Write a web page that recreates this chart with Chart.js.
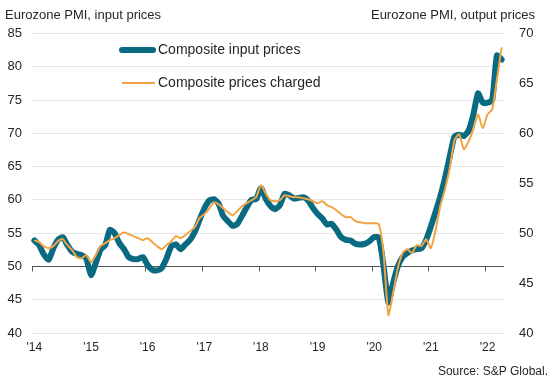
<!DOCTYPE html>
<html>
<head>
<meta charset="utf-8">
<script src="https://cdn.jsdelivr.net/npm/chart.js@4/dist/chart.umd.min.js"></script>
<style>
  html, body { margin: 0; padding: 0; background: #fff; }
  #wrap { width: 556px; height: 389px; position: relative; }
</style>
</head>
<body>
<div id="wrap"><canvas id="pmiChart"></canvas></div>
<script>
const years = [2014, 2015, 2016, 2017, 2018, 2019, 2020, 2021, 2022];
const yearTicks = ["'14", "'15", "'16", "'17", "'18", "'19", "'20", "'21", "'22"];

// Composite input prices (left axis), Jan 2014 - Apr 2022
const inputPrices = [
    53.9, 53.2, 51.8, 51.0, 52.7, 54.0, 54.4, 53.2, 52.2, 51.9, 51.7, 51.2,
    48.7, 50.5, 52.5, 53.2, 55.5, 55.0, 53.5, 52.6, 51.4, 51.1, 51.1, 51.4,
    50.2, 49.5, 49.4, 49.8, 51.2, 53.0, 53.3, 52.6, 53.3, 54.0, 55.2, 57.0,
    58.7, 59.9, 60.1, 59.5, 57.6, 56.8, 56.1, 56.4, 57.6, 58.9, 60.0, 60.1,
    61.8, 60.2, 59.1, 58.6, 59.2, 60.9, 60.7, 60.2, 60.3, 60.4, 59.9, 58.8,
    57.9, 57.2, 56.3, 56.4, 55.5, 54.4, 54.0, 53.9, 53.4, 53.3, 53.4, 53.8,
    54.4, 54.3, 50.0, 44.6, 47.5, 50.0, 51.4, 52.0, 52.4, 52.6, 52.7, 54.0,
    56.0, 58.2, 60.5, 63.3, 66.5, 69.5, 69.8, 69.6, 70.4, 72.8, 76.0, 74.6,
    74.6, 75.0, 81.7, 81.1
];

// Composite prices charged (right axis)
const pricesCharged = [
    49.3, 49.1, 48.7, 48.5, 48.7, 49.2, 49.4, 48.8, 48.3, 47.6, 47.5, 47.8,
    47.1, 47.8, 48.7, 49.0, 49.3, 49.5, 49.8, 50.1, 49.9, 49.7, 49.5, 49.3,
    49.5, 49.1, 48.7, 48.4, 48.8, 49.2, 49.7, 49.5, 49.8, 50.2, 50.6, 51.5,
    51.9, 52.4, 53.1, 52.9, 52.5, 52.1, 51.8, 52.2, 52.7, 53.0, 53.3, 53.6,
    54.8, 54.0, 53.3, 53.2, 53.3, 53.8, 53.7, 53.6, 53.6, 53.5, 53.4, 53.2,
    53.0, 53.2, 52.8, 52.6, 52.3, 51.9, 51.6, 51.6, 51.2, 51.1, 51.0, 51.0,
    51.0, 50.9, 47.9, 41.8, 44.0, 46.5, 48.0, 48.4, 48.0, 48.8, 48.7, 49.4,
    48.5, 50.3, 52.7, 54.4, 56.5, 59.3, 59.9, 58.4, 59.2, 60.4, 61.9, 60.5,
    61.9, 62.4, 65.4, 68.6
];

const leftTicks = { min: 40, max: 85, step: 5 };
const rightTicks = { min: 40, max: 70, step: 5 };

const labels = [];
years.forEach(y => {
    for (let m = 1; m <= 12; m++) labels.push(y + "-" + m);
});
labels.length = inputPrices.length;

const TEAL = "#0a6a82";
const ORANGE = "#f2a444";
const TEXT = "#262626";
const FONT = "'Liberation Sans', Arial, sans-serif";

const decor = {
    id: "decor",
    beforeDatasetsDraw(chart) {
        const ctx = chart.ctx;
        const x = chart.scales.x;
        const yL = chart.scales.yL;
        const area = chart.chartArea;
        const y50 = Math.round(yL.getPixelForValue(50)) + 0.5;
        const half = (x.getPixelForValue(1) - x.getPixelForValue(0)) / 2;
        ctx.save();
        ctx.strokeStyle = "#555555";
        ctx.lineWidth = 1;
        ctx.beginPath();
        ctx.moveTo(area.left, y50);
        ctx.lineTo(area.right, y50);
        yearTicks.forEach((t, k) => {
            const tx = Math.round(x.getPixelForValue(k * 12) - half) + 0.5;
            ctx.moveTo(tx, y50);
            ctx.lineTo(tx, y50 + 5);
        });
        ctx.stroke();
        ctx.restore();
    },
    afterDraw(chart) {
        const ctx = chart.ctx;
        ctx.save();
        ctx.fillStyle = TEXT;
        ctx.textBaseline = "middle";
        ctx.font = "13px " + FONT;
        ctx.textAlign = "left";
        ctx.fillText("Eurozone PMI, input prices", 5, 15);
        ctx.textAlign = "right";
        ctx.fillText("Eurozone PMI, output prices", 535, 15);

        ctx.font = "12px " + FONT;
        ctx.fillText("Source: S&P Global.", 548, 372);

        // legend
        const items = chart.data.datasets;
        const rows = [50, 83];
        ctx.textAlign = "left";
        ctx.font = "14px " + FONT;
        items.forEach((ds, i) => {
            ctx.strokeStyle = ds.borderColor;
            ctx.lineWidth = ds.borderWidth;
            ctx.lineCap = ds.borderCapStyle || "butt";
            ctx.beginPath();
            ctx.moveTo(122, rows[i]);
            ctx.lineTo(i === 0 ? 153 : 155, rows[i]);
            ctx.stroke();
            ctx.fillText(ds.label, 158, rows[i]);
        });
        ctx.restore();
    }
};

new Chart(document.getElementById("pmiChart"), {
    type: "line",
    data: {
        labels: labels,
        datasets: [
            {
                label: "Composite input prices",
                data: inputPrices,
                yAxisID: "yL",
                borderColor: TEAL,
                borderWidth: 6,
                borderCapStyle: "round",
                borderJoinStyle: "round",
                pointRadius: 0,
                tension: 0.2,
                order: 1
            },
            {
                label: "Composite prices charged",
                data: pricesCharged,
                yAxisID: "yR",
                borderColor: ORANGE,
                borderWidth: 2,
                borderJoinStyle: "round",
                pointRadius: 0,
                tension: 0.2,
                order: 0
            }
        ]
    },
    options: {
        responsive: true,
        maintainAspectRatio: false,
        animation: false,
        layout: { padding: { top: 33.5, left: 0, right: 0, bottom: 0 } },
        plugins: {
            legend: { display: false },
            tooltip: { enabled: false }
        },
        scales: {
            x: {
                type: "category",
                offset: true,
                grid: { display: false, drawTicks: false },
                border: { display: false },
                ticks: {
                    autoSkip: false,
                    maxRotation: 0,
                    padding: 7,
                    color: TEXT,
                    font: { family: FONT, size: 12 },
                    callback: (v, i) => (i % 12 === 0 ? yearTicks[i / 12] : "")
                },
                afterFit: s => { s.height = 56; }
            },
            yL: {
                position: "left",
                min: leftTicks.min,
                max: leftTicks.max,
                grid: { color: "#e8e8e8", drawTicks: false },
                border: { display: false },
                ticks: {
                    stepSize: leftTicks.step,
                    padding: 10,
                    color: TEXT,
                    font: { family: FONT, size: 13 }
                },
                afterFit: s => { s.width = 32; }
            },
            yR: {
                position: "right",
                min: rightTicks.min,
                max: rightTicks.max,
                grid: { display: false, drawTicks: false },
                border: { display: false },
                ticks: {
                    stepSize: rightTicks.step,
                    padding: 15,
                    color: TEXT,
                    font: { family: FONT, size: 13 }
                },
                afterFit: s => { s.width = 52; }
            }
        }
    },
    plugins: [decor]
});
</script>
</body>
</html>
